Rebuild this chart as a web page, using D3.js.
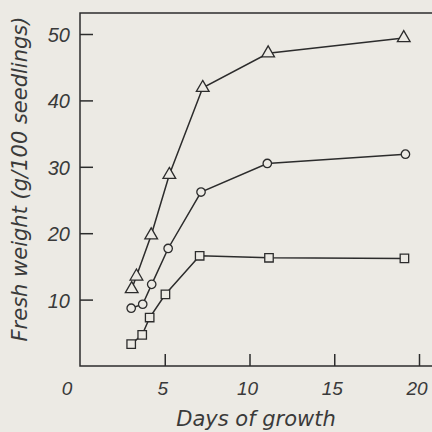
<!DOCTYPE html>
<html>
<head>
<meta charset="utf-8">
<script src="https://cdn.jsdelivr.net/npm/d3@7"></script>
<style>
  html, body { margin: 0; padding: 0; background: #eceae4; }
  svg { display: block; }
</style>
</head>
<body>
<svg id="chart" width="432" height="432"></svg>
<script>
// ---- data ----
const triDays  = [3.05, 3.33, 4.2, 5.27, 7.24, 11.1, 19.1];
const triWeight = [11.6, 13.5, 19.7, 28.8, 41.9, 47.1, 49.4];
const cirDays  = [3.02, 3.7, 4.23, 5.2, 7.14, 11.05, 19.2];
const cirWeight = [8.7, 9.3, 12.3, 17.7, 26.2, 30.5, 31.9];
const sqDays   = [3.02, 3.67, 4.11, 5.04, 7.06, 11.15, 19.14];
const sqWeight = [3.3, 4.7, 7.3, 10.8, 16.6, 16.3, 16.2];
const xTicks = [5, 10, 15, 20];
const yTicks = [10, 20, 30, 40, 50];
const xTitle = "Days of growth";
const yTitle = "Fresh weight (g/100 seedlings)";

const ink = "#2c2c2c";
const textInk = "#3a3a3a";
const bg = "#eceae4";
const svg = d3.select("#chart");

const x = d3.scaleLinear().domain([0, 20]).range([80, 419]);
const y = d3.scaleLinear().domain([0, 50]).range([366, 34]);
const topY = 13, rightX = 432;

// frame
const frame = svg.append("g").attr("stroke", ink).attr("stroke-width", 1.5).attr("fill", "none");
frame.append("path").attr("d", `M${rightX},${topY}H${x(0)}V${y(0)}H${rightX}`);

// y ticks (inside, pointing right)
const yAxis = d3.axisRight(y).tickValues(yTicks).tickSize(13).tickFormat("");
const ya = svg.append("g").attr("transform", `translate(${x(0)},0)`).call(yAxis);
ya.select(".domain").remove();
ya.selectAll("line").attr("stroke", ink).attr("stroke-width", 1.5);

// x ticks (inside, pointing up)
const xAxis = d3.axisTop(x).tickValues(xTicks).tickSize(12).tickFormat("");
const xa = svg.append("g").attr("transform", `translate(0,${y(0)})`).call(xAxis);
xa.select(".domain").remove();
xa.selectAll("line").attr("stroke", ink).attr("stroke-width", 1.5);

const numFont = "'Liberation Sans', Arimo, sans-serif";
// y tick labels
svg.append("g").selectAll("text").data(yTicks).join("text")
  .attr("x", x(0) - 10).attr("y", d => y(d) + 8)
  .attr("text-anchor", "end")
  .attr("font-family", numFont).attr("font-style", "italic").attr("font-size", 20)
  .attr("fill", textInk).text(d => d);

// x tick labels (with origin 0)
svg.append("g").selectAll("text").data([0].concat(xTicks)).join("text")
  .attr("x", d => d === 0 ? x(0) - 13 : x(d) - 2).attr("y", 395)
  .attr("text-anchor", "middle")
  .attr("font-family", numFont).attr("font-style", "italic").attr("font-size", 19)
  .attr("fill", textInk).text(d => d);

// titles
const titleFont = "'DejaVu Sans', sans-serif";
svg.append("text").attr("x", 256).attr("y", 426).attr("text-anchor", "middle")
  .attr("font-family", titleFont).attr("font-style", "italic").attr("font-size", 21)
  .attr("font-weight", 300)
  .attr("fill", textInk).text(xTitle);
svg.append("text").attr("transform", "translate(27,179) rotate(-90)").attr("text-anchor", "middle")
  .attr("font-family", titleFont).attr("font-style", "italic").attr("font-size", 21)
  .attr("font-weight", 300)
  .attr("fill", textInk).text(yTitle);

// series
const series = [
  {days: triDays, vals: triWeight, sym: d3.symbolTriangle, size: 70},
  {days: cirDays, vals: cirWeight, sym: d3.symbolCircle, size: 56},
  {days: sqDays, vals: sqWeight, sym: d3.symbolSquare, size: 72}
];
const line = d3.line().x(d => x(d[0])).y(d => y(d[1]));
series.forEach(s => {
  const pts = s.days.map((d, i) => [d, s.vals[i]]);
  svg.append("path").datum(pts).attr("d", line)
    .attr("fill", "none").attr("stroke", ink).attr("stroke-width", 1.5);
  svg.append("g").selectAll("path").data(pts).join("path")
    .attr("transform", d => `translate(${x(d[0])},${y(d[1])})`)
    .attr("d", d3.symbol().type(s.sym).size(s.size))
    .attr("fill", bg).attr("stroke", ink).attr("stroke-width", 1.3);
});
</script>
</body>
</html>
